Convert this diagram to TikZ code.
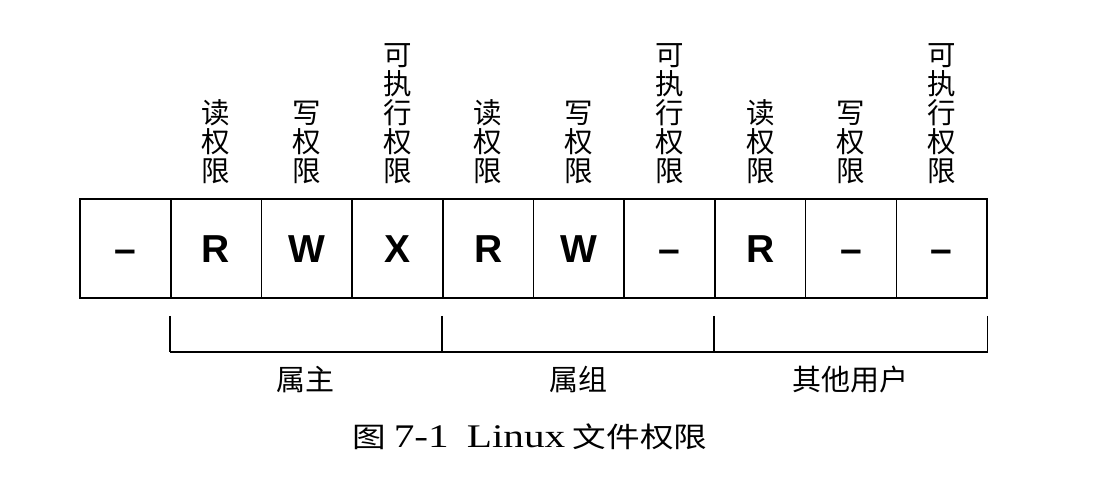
\documentclass[tikz,border=0pt]{standalone}
\usepackage{fontspec}
\setmainfont{Liberation Serif}
\newfontfamily\cjk{Noto Sans CJK SC}
\newfontfamily\cjkwide{Noto Sans CJK SC}[FakeStretch=1.2]
\newfontfamily\capfont{Liberation Serif}[FakeStretch=1.25]
\newfontfamily\cellfont{Liberation Sans}
\usetikzlibrary{positioning}

\begin{document}
\begin{tikzpicture}[x=1pt,y=-1pt,
  cell/.style={draw,line width=1.6pt,minimum width=90.7pt,minimum height=99pt,inner sep=0pt,
    text height=28pt,text depth=0pt,font=\cellfont\bfseries\fontsize{39}{39}\selectfont},
  perm/.style={align=center,inner sep=0pt,font=\cjk\fontsize{28.5}{29}\selectfont},
  grp/.style={inner sep=0pt,font=\cjk\fontsize{29}{29}\selectfont},
  tick/.style={line width=1.3pt}]
\useasboundingbox (0,0) rectangle (1108,480);
% the ten permission cells
\foreach \sym/\pos in {–/0,R/1,W/2,X/3,R/4,W/5,–/6,R/7,–/8,–/9}
  { \node [cell] (c\pos) at (125.35+90.7*\pos,248.5) {\sym}; }
% vertical labels above the cells
\foreach \txt/\pos in {{读\\权\\限}/1,{写\\权\\限}/2,{可\\执\\行\\权\\限}/3,
                       {读\\权\\限}/4,{写\\权\\限}/5,{可\\执\\行\\权\\限}/6,
                       {读\\权\\限}/7,{写\\权\\限}/8,{可\\执\\行\\权\\限}/9}
  { \node [perm,above=14pt of c\pos] (p\pos) {\txt}; }
% bracket under the cells
\foreach \src/\tk in {c1.south west/1,c4.south west/2,c7.south west/3,c9.south east/4}
  { \coordinate [below=17pt of \src] (t\tk);
    \coordinate [below=53pt of \src] (b\tk);
    \draw [tick] (t\tk) -- (b\tk); }
\draw [line width=2pt] (b1) -- (b4);
\path (b1) -- (b2) node [grp,midway,below=14pt] (owner) {属主};
\path (b2) -- (b3) node [grp,midway,below=14pt] (group) {属组};
\path (b3) -- (b4) node [grp,midway,below=14pt] (other) {其他用户};
\node (caption) at (530,437)
  {\cjkwide\fontsize{28}{28}\selectfont 图~{\capfont\fontsize{33}{33}\selectfont 7-1\hspace{18pt}Linux} 文件权限};
\end{tikzpicture}
\end{document}
